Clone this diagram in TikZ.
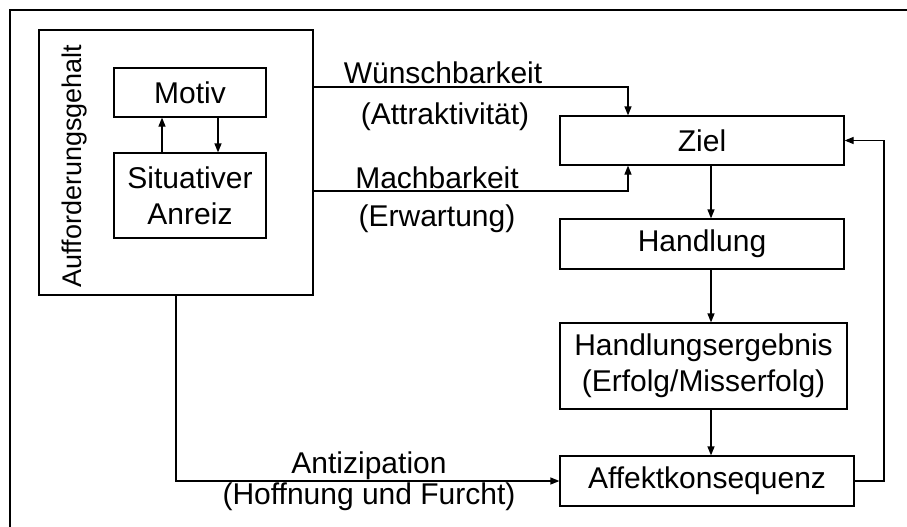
\documentclass[tikz,border=0pt]{standalone}
\usepackage{fontspec}
\setmainfont{Liberation Sans}
\usetikzlibrary{arrows.meta}
\begin{document}
\begin{tikzpicture}[x=1pt,y=-1pt, line width=1.2pt,
  box/.style={draw, rectangle, inner sep=0pt, align=center, font=\fontsize{30}{36}\selectfont},
  lbl/.style={font=\fontsize{30}{36}\selectfont, inner sep=0pt, anchor=base},
  arr/.style={-{Triangle[length=9pt,width=7pt]}}]
\useasboundingbox (0,0) rectangle (907,527);
\draw[line width=1.6pt] (10,527) -- (10,10) -- (907,10);
% left block
\node[box, minimum width=274pt, minimum height=265pt] (auf) at (176,162.5) {};
\node[font=\fontsize{27}{32}\selectfont, rotate=90, inner sep=0pt] (aufl) at (75,166) {Aufforderungsgehalt};
\node[box, minimum width=152pt, minimum height=49pt] (motiv) at (190,92.5) {Motiv};
\node[box, minimum width=152pt, minimum height=85pt] (sit) at (190,195.5) {Situativer\\Anreiz};
% right column
\node[box, minimum width=284pt, minimum height=49pt] (ziel) at (702,140.5) {Ziel};
\node[box, minimum width=284pt, minimum height=50pt] (hand) at (702,244) {Handlung};
\node[box, minimum width=287pt, minimum height=86pt] (erg) at (703.5,366) {Handlungsergebnis\\(Erfolg/Misserfolg)};
\node[box, minimum width=294pt, minimum height=50pt] (aff) at (707,481) {Affektkonsequenz};
% helper coordinates
\coordinate (ua) at (162,0);
\coordinate (da) at (218,0);
\coordinate (wy) at (0,87);
\coordinate (my) at (0,191);
\coordinate (wx) at (628,0);
\coordinate (col) at (711,0);
\coordinate (fb) at (884,0);
% connectors
\draw[arr] (sit.north -| ua) -- (motiv.south -| ua);
\draw[arr] (motiv.south -| da) -- (sit.north -| da);
\draw[arr] (auf.east |- wy) -| (ziel.north -| wx);
\draw[arr] (auf.east |- my) -| (ziel.south -| wx);
\draw[arr] (ziel.south -| col) -- (hand.north -| col);
\draw[arr] (hand.south -| col) -- (erg.north -| col);
\draw[arr] (erg.south -| col) -- (aff.north -| col);
\draw[arr] (aff.east) -- (aff.east -| fb) -- (fb |- ziel.east) -- (ziel.east);
\draw[arr] (auf.south) |- (aff.west);
% labels
\node[lbl] (lw) at (443,84) {Wünschbarkeit};
\node[lbl] (la) at (445,124) {(Attraktivität)};
\node[lbl] (lm) at (437,188) {Machbarkeit};
\node[lbl] (le) at (437,226) {(Erwartung)};
\node[lbl] (lan) at (369,473) {Antizipation};
\node[lbl] (lh) at (369,504) {(Hoffnung und Furcht)};
\end{tikzpicture}
\end{document}
